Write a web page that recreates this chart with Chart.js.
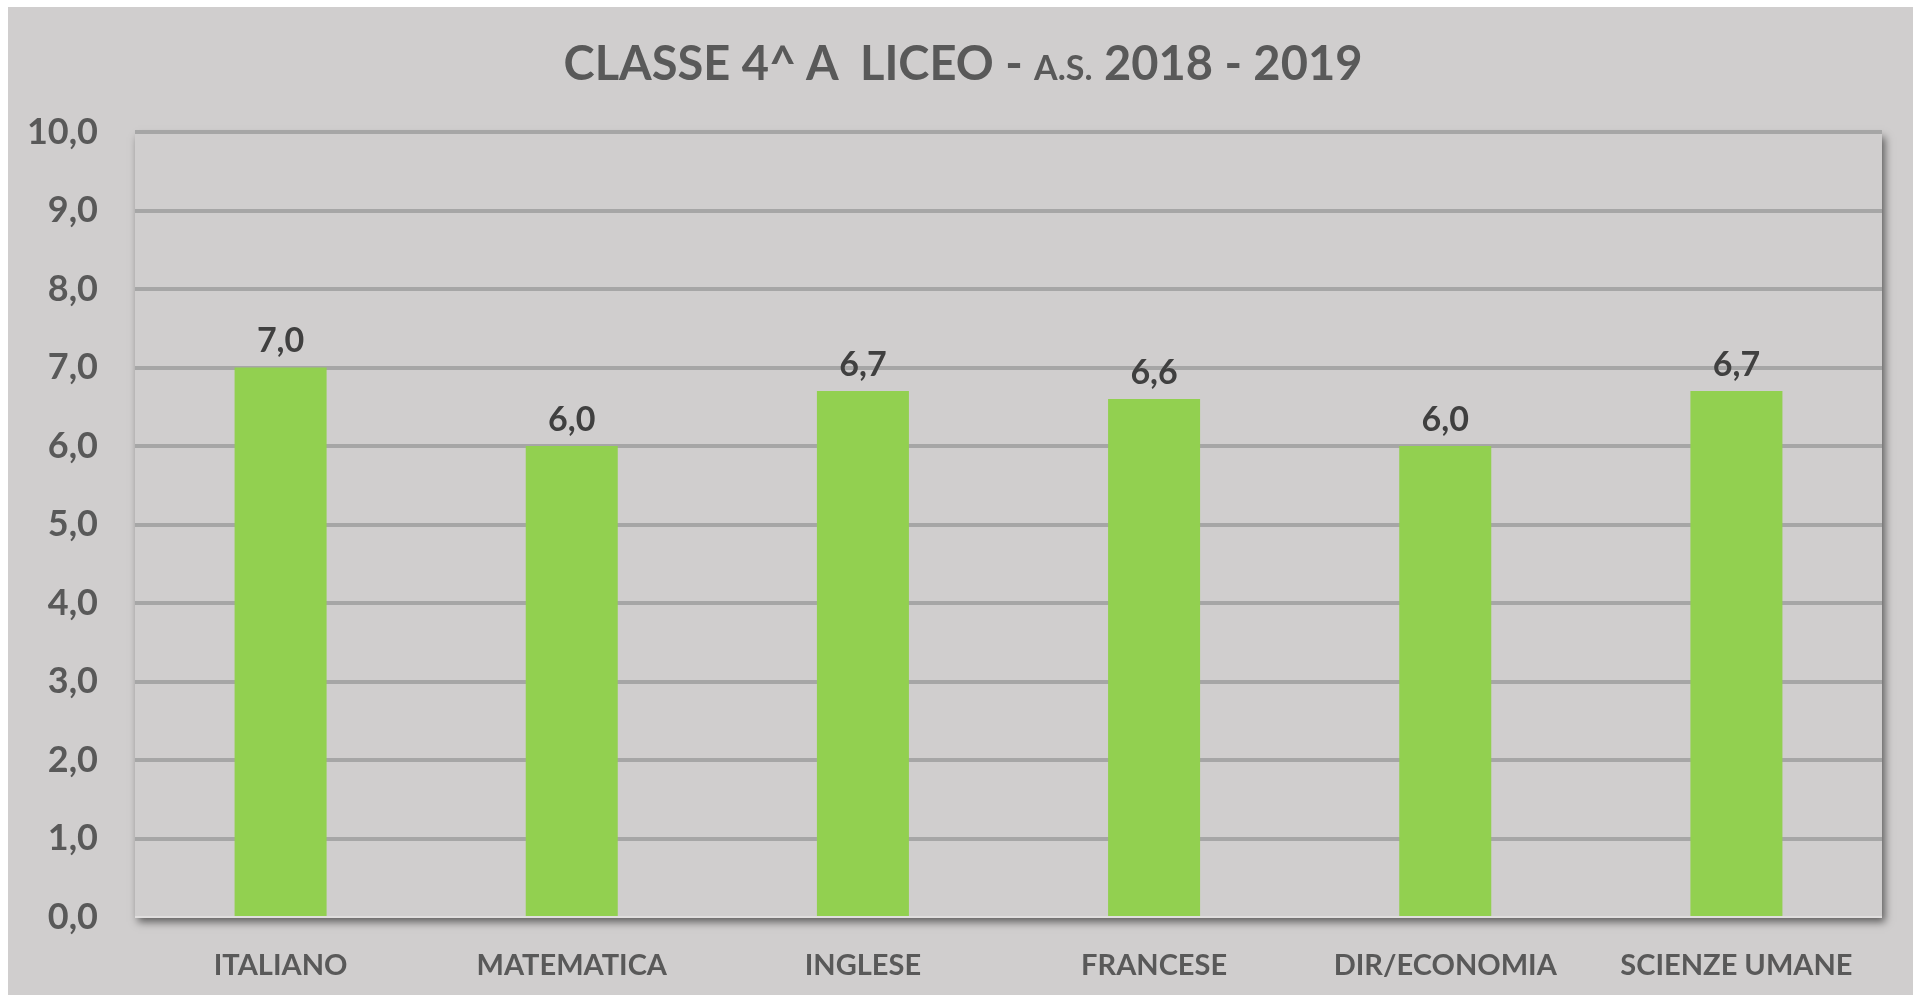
<!DOCTYPE html>
<html>
<head>
<meta charset="utf-8">
<script src="https://cdn.jsdelivr.net/npm/chart.js@4.4.1/dist/chart.umd.min.js"></script>
<style>
  html, body { margin: 0; padding: 0; background: #fff; }
  #wrap { position: relative; width: 1922px; height: 995px; }
  #titolo {
    position: absolute; left: 0; top: 32px; width: 1922px; text-align: center;
    font-family: Lato, sans-serif; font-weight: bold; font-size: 47px; color: #595959;
    line-height: 60px; padding-left: 2px;
  }
  #titolo small { font-size: 34px; }
</style>
</head>
<body>
<div id="wrap">
  <canvas id="grafico" width="1922" height="995"></canvas>
  <div id="titolo">CLASSE 4^ A&nbsp; LICEO - <small>A.S.</small> 2018 - 2019</div>
</div>
<script>
// materie e medie della classe
const materie = ['ITALIANO', 'MATEMATICA', 'INGLESE', 'FRANCESE', 'DIR/ECONOMIA', 'SCIENZE UMANE'];
const medie = [7.0, 6.0, 6.7, 6.6, 6.0, 6.7];
const tacche = [0, 1, 2, 3, 4, 5, 6, 7, 8, 9, 10];

const virgola = v => v.toFixed(1).replace('.', ',');

// sfondo grigio e ombra dell'area del grafico
const sfondo = {
  id: 'sfondo',
  beforeDraw(chart) {
    const { ctx, chartArea: a } = chart;
    ctx.save();
    ctx.fillStyle = '#d0cece';
    ctx.fillRect(8, 7, 1905, 988);
    ctx.shadowColor = 'rgba(0,0,0,0.55)';
    ctx.shadowBlur = 8;
    ctx.shadowOffsetX = 3;
    ctx.shadowOffsetY = 5;
    ctx.fillRect(a.left, a.top, a.right - a.left, a.bottom - a.top);
    ctx.restore();
  }
};

// etichette sopra le barre
const etichette = {
  id: 'etichette',
  afterDatasetsDraw(chart) {
    const { ctx } = chart;
    ctx.save();
    ctx.font = 'bold 34px Lato';
    ctx.fillStyle = '#404040';
    ctx.textAlign = 'center';
    ctx.textBaseline = 'bottom';
    chart.getDatasetMeta(0).data.forEach((bar, i) => {
      ctx.fillText(virgola(medie[i]), bar.x, bar.y - 9);
    });
    ctx.restore();
  }
};

new Chart(document.getElementById('grafico'), {
  type: 'bar',
  data: {
    labels: materie,
    datasets: [{
      data: medie,
      backgroundColor: '#92d050',
      categoryPercentage: 1,
      barPercentage: 0.316
    }]
  },
  options: {
    responsive: false,
    animation: false,
    layout: { padding: { top: 132, right: 40, left: 0, bottom: 0 } },
    plugins: { legend: { display: false }, title: { display: false }, tooltip: { enabled: false } },
    scales: {
      x: {
        grid: { display: false },
        border: { display: false },
        ticks: { color: '#595959', font: { family: 'Lato', weight: 'bold', size: 29 }, padding: 23, maxRotation: 0 },
        afterFit: s => { s.height = 78; }
      },
      y: {
        min: 0, max: 10,
        afterBuildTicks: s => { s.ticks = tacche.map(v => ({ value: v })); },
        grid: { color: ctx => ctx.tick.value === 0 ? '#e0dede' : '#a6a6a6', lineWidth: ctx => ctx.tick.value === 0 ? 2 : 4, drawTicks: false },
        border: { display: false },
        ticks: { color: '#595959', font: { family: 'Lato', weight: 'bold', size: 36 }, padding: 37, callback: v => virgola(v) },
        afterFit: s => { s.width = 135; }
      }
    }
  },
  plugins: [sfondo, etichette]
});
</script>
</body>
</html>
